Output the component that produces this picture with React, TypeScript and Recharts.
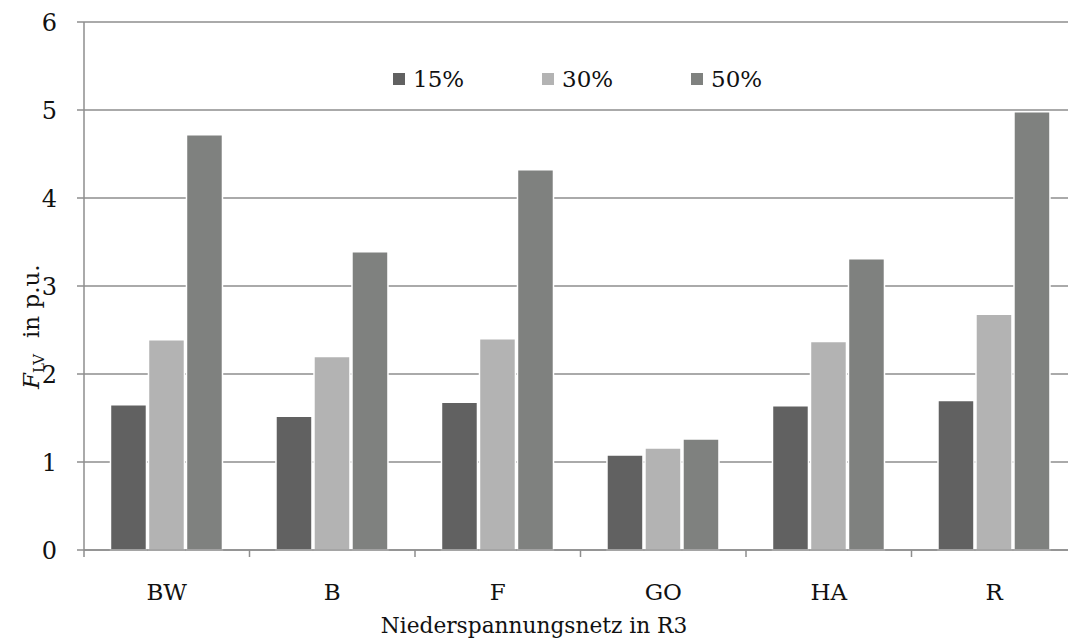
import { BarChart, Bar, XAxis, YAxis, CartesianGrid } from "recharts";

const NETZE = ["BW", "B", "F", "GO", "HA", "R"];
const P15 = [1.65, 1.52, 1.68, 1.08, 1.64, 1.7];
const P30 = [2.39, 2.2, 2.4, 1.16, 2.37, 2.68];
const P50 = [4.72, 3.39, 4.32, 1.26, 3.31, 4.98];
const Y_TICKS = [0, 1, 2, 3, 4, 5, 6];

const SERIES = [
  { key: "p15", name: "15%", color: "#616161" },
  { key: "p30", name: "30%", color: "#b3b3b3" },
  { key: "p50", name: "50%", color: "#7f817f" },
];

const FONT = "'DejaVu Serif', serif";
const AXIS_GRAY = "#8e8e8e";

const data = NETZE.map((n, i) => ({ netz: n, p15: P15[i], p30: P30[i], p50: P50[i] }));

// legend sits inside the plot, so it is laid over the chart instead of taking space
function LegendBox() {
  return (
    <div
      style={{
        position: "absolute",
        top: 66,
        left: 393,
        display: "flex",
        fontFamily: FONT,
        fontSize: 23,
        color: "#111",
      }}
    >
      {SERIES.map((s) => (
        <div key={s.key} style={{ display: "flex", alignItems: "center", width: 149 }}>
          <span style={{ width: 12, height: 12, background: s.color, marginRight: 8, display: "inline-block" }} />
          {s.name}
        </div>
      ))}
    </div>
  );
}

// category label plus tick mark at the left band edge
function NetzTick(props: any) {
  const { x, y, payload } = props;
  const edge = x - (payload.offset ?? 0);
  return (
    <g>
      <line x1={edge} x2={edge} y1={y} y2={y + 7} stroke={AXIS_GRAY} strokeWidth={1.5} />
      <text x={x} y={y + 50} textAnchor="middle" fontFamily={FONT} fontSize={23} fill="#111">
        {payload.value}
      </text>
    </g>
  );
}

// F_LV in p.u. – rotated, with subscript
function YTitle() {
  const x = 39;
  const y = 389;
  return (
    <text
      x={x}
      y={y}
      transform={`rotate(-90, ${x}, ${y})`}
      fontFamily={FONT}
      fontSize={23}
      fill="#111"
    >
      <tspan fontStyle="italic">F</tspan>
      <tspan fontSize={15} dy={5}>LV</tspan>
      <tspan dy={-5} dx={16}>in p.u.</tspan>
    </text>
  );
}

export default function App() {
  return (
    <div style={{ position: "absolute", left: 0, top: 0, width: 1068, height: 640, overflow: "hidden", background: "#fff" }}>
      <BarChart
        width={1080}
        height={640}
        data={data}
        margin={{ top: 22, right: 3, bottom: 0, left: 0 }}
        barCategoryGap="16%"
        barGap={2}
      >
        <CartesianGrid vertical={false} stroke={AXIS_GRAY} strokeWidth={1.5} />
        <XAxis
          dataKey="netz"
          height={90}
          tickLine={false}
          tickSize={0}
          tickMargin={0}
          axisLine={{ stroke: AXIS_GRAY, strokeWidth: 1.5 }}
          tick={<NetzTick />}
          interval={0}
          label={() => (
            <text x={534} y={633} textAnchor="middle" fontFamily={FONT} fontSize={21.7} fill="#111">
              Niederspannungsnetz in R3
            </text>
          )}
        />
        <YAxis
          width={84}
          domain={[0, 6]}
          ticks={Y_TICKS}
          tickSize={7}
          tickMargin={20}
          axisLine={{ stroke: AXIS_GRAY, strokeWidth: 1.5 }}
          tickLine={{ stroke: AXIS_GRAY, strokeWidth: 1.5 }}
          tick={{ fontFamily: FONT, fontSize: 24, fill: "#111" }}
          label={() => <YTitle />}
        />
        {SERIES.map((s) => (
          <Bar
            key={s.key}
            dataKey={s.key}
            name={s.name}
            fill={s.color}
            stroke="#ffffff"
            strokeWidth={1.5}
            isAnimationActive={false}
          />
        ))}
      </BarChart>
      <LegendBox />
    </div>
  );
}
